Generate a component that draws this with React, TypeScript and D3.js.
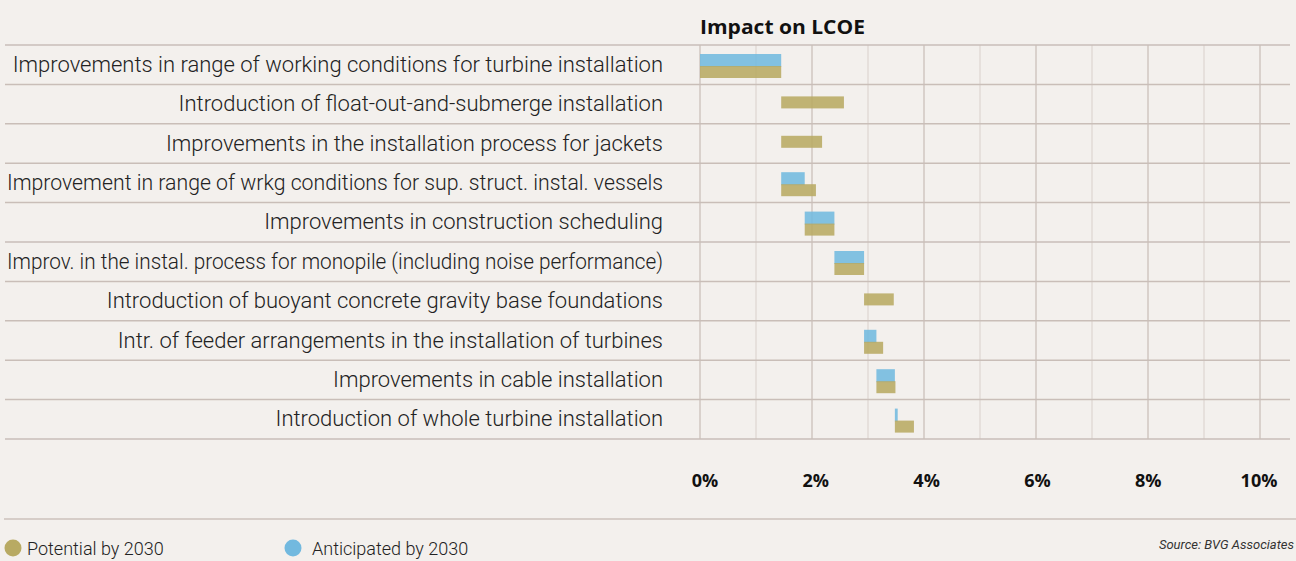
import { useEffect, useRef } from "react";
import * as d3 from "d3";

// measures, % impact on LCOE
const categories = [
  "Improvements in range of working conditions for turbine installation",
  "Introduction of float-out-and-submerge installation",
  "Improvements in the installation process for jackets",
  "Improvement in range of wrkg conditions for sup. struct. instal. vessels",
  "Improvements in construction scheduling",
  "Improv. in the instal. process for monopile (including noise performance)",
  "Introduction of buoyant concrete gravity base foundations",
  "Intr. of feeder arrangements in the installation of turbines",
  "Improvements in cable installation",
  "Introduction of whole turbine installation",
];
const anticipated = [1.45, 0, 0, 0.42, 0.53, 0.53, 0, 0.22, 0.33, 0.05];
const potential = [1.45, 1.12, 0.73, 0.62, 0.53, 0.53, 0.53, 0.34, 0.34, 0.34];
const gridValues = [0, 1, 2, 3, 4, 5, 6, 7, 8, 9, 10];
const tickValues = [0, 2, 4, 6, 8, 10];

const W = 1296, H = 561;
const BG = "#f3f0ed";
const OLIVE = "#b8aa63";
const BLUE = "#72b9df";
const LABEL_FONT = "Roboto, 'Open Sans', sans-serif";

export default function App() {
  const labelsRef = useRef<SVGGElement>(null);

  const x = d3.scaleLinear().domain([0, 10]).range([700, 1260]);
  const xLabels = x.copy().range([705, 1259]);
  const y = d3.scaleBand().domain(categories).range([45, 439]);
  const bw = y.bandwidth();
  const sub = d3.scaleBand().domain(["anticipated", "potential"]).range([9, 33]);

  // each row starts where the anticipated cumulative total ended
  const cum = d3.cumsum(anticipated);
  const base = anticipated.map((_, i) => (i === 0 ? 0 : cum[i - 1]));

  useEffect(() => {
    // squeeze labels that would run past the left edge
    d3.select(labelsRef.current)
      .selectAll<SVGTextElement, unknown>("text")
      .each(function () {
        const len = this.getComputedTextLength();
        if (len > 656) {
          this.setAttribute("textLength", "656");
          this.setAttribute("lengthAdjust", "spacingAndGlyphs");
        }
      });
  }, []);

  return (
    <svg width={W} height={H} style={{ position: "absolute", left: 0, top: 0, background: BG }}>
      <rect width={W} height={H} fill={BG} />
      <text x={700} y={34} fontFamily="'Open Sans', sans-serif" fontWeight={700} fontSize={19} fill="#111" textLength={165} lengthAdjust="spacingAndGlyphs">
        Impact on LCOE
      </text>

      {/* vertical grid */}
      {gridValues.map((v) => (
        <line key={v} x1={x(v)} x2={x(v)} y1={45} y2={439}
          stroke={v % 2 === 0 ? "#d9d1cc" : "#e6e0dc"} strokeWidth={2} />
      ))}

      {/* row separators */}
      {[...categories.map((c) => y(c) as number), 439].map((yy, i) => (
        <line key={i} x1={5} x2={1290} y1={yy} y2={yy} stroke="#c9beb8" strokeWidth={1.5} />
      ))}

      {/* bars */}
      {categories.map((c, i) => {
        const y0 = y(c) as number;
        const a = anticipated[i];
        const p = potential[i];
        const yPot = a > 0 ? y0 + (sub("potential") as number) : y0 + 12;
        return (
          <g key={c}>
            {a > 0 && (
              <rect x={x(base[i])} width={x(base[i] + a) - x(base[i])}
                y={y0 + (sub("anticipated") as number)} height={sub.bandwidth() + 1}
                fill={BLUE} fillOpacity={0.88} />
            )}
            <rect x={x(base[i])} width={x(base[i] + p) - x(base[i])}
              y={yPot} height={sub.bandwidth()} fill={OLIVE} fillOpacity={0.88} />
          </g>
        );
      })}

      {/* category labels */}
      <g ref={labelsRef}>
        {categories.map((c) => (
          <text key={c} x={663} y={(y(c) as number) + bw / 2 + 7} textAnchor="end"
            fontFamily={LABEL_FONT} fontWeight={300} fontSize={22} fill="#222">
            {c}
          </text>
        ))}
      </g>

      {/* x tick labels */}
      {tickValues.map((v) => (
        <text key={v} x={xLabels(v)} y={487} textAnchor="middle"
          fontFamily="'Open Sans', sans-serif" fontWeight={700} fontSize={18} fill="#111">
          {v}%
        </text>
      ))}

      <line x1={4} x2={W} y1={519} y2={519} stroke="#d6cdc8" strokeWidth={2} />

      {/* legend */}
      <circle cx={13} cy={548} r={8.5} fill={OLIVE} />
      <text x={27} y={555} fontFamily={LABEL_FONT} fontWeight={300} fontSize={18} fill="#222">Potential by 2030</text>
      <circle cx={293} cy={548} r={8.5} fill={BLUE} />
      <text x={312} y={555} fontFamily={LABEL_FONT} fontWeight={300} fontSize={18} fill="#222">Anticipated by 2030</text>

      <text x={1294} y={549} textAnchor="end" fontFamily={LABEL_FONT} fontStyle="italic" fontSize={13} fill="#333">
        Source: BVG Associates
      </text>
    </svg>
  );
}
